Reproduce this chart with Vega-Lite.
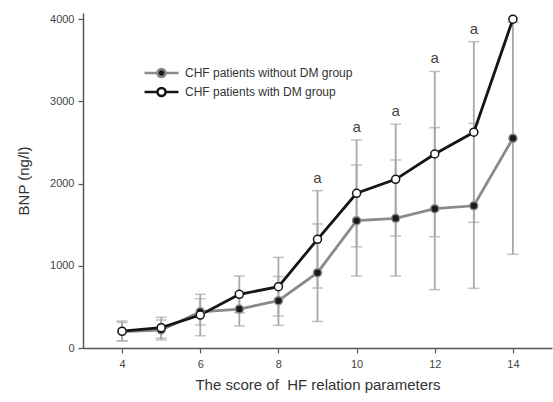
{
  "$schema": "https://vega.github.io/schema/vega-lite/v6.json",
  "width": 469,
  "height": 335,
  "autosize": {"type": "none"},
  "padding": {"left": 83, "top": 13, "right": 1, "bottom": 54},
  "background": "white",
  "config": {
    "view": {"stroke": null},
    "font": "Liberation Sans",
    "axis": {
      "grid": false,
      "domainColor": "#555",
      "domainWidth": 1.5,
      "tickColor": "#555",
      "tickWidth": 1.2,
      "tickSize": 5,
      "labelFont": "Liberation Sans",
      "labelFontSize": 11,
      "labelColor": "#444",
      "titleFont": "Liberation Sans",
      "titleFontSize": 15,
      "titleFontWeight": "normal",
      "titleColor": "#333"
    },
    "legend": {
      "orient": "none",
      "legendX": 60,
      "legendY": 52,
      "symbolType": "M-1,0H-0.24M0.24,0H1M-0.24,0A0.24,0.24,0,1,0,0.24,0A0.24,0.24,0,1,0,-0.24,0Z",
      "symbolSize": 1156,
      "symbolStrokeWidth": 2.5,
      "clipHeight": 16,
      "rowPadding": 3,
      "labelLimit": 0,
      "labelFont": "Liberation Sans",
      "labelFontSize": 12,
      "labelColor": "#333",
      "labelOffset": 5
    }
  },
  "data": {
    "values": [
      {"x": 4, "group": "CHF patients without DM group", "mean": 198, "lo": 88, "hi": 310, "label": null},
      {"x": 5, "group": "CHF patients without DM group", "mean": 219, "lo": 98, "hi": 340, "label": null},
      {"x": 6, "group": "CHF patients without DM group", "mean": 440, "lo": 280, "hi": 600, "label": null},
      {"x": 7, "group": "CHF patients without DM group", "mean": 474, "lo": 268, "hi": 680, "label": null},
      {"x": 8, "group": "CHF patients without DM group", "mean": 575, "lo": 275, "hi": 870, "label": null},
      {"x": 9, "group": "CHF patients without DM group", "mean": 916, "lo": 323, "hi": 1509, "label": null},
      {"x": 10, "group": "CHF patients without DM group", "mean": 1549, "lo": 876, "hi": 2226, "label": null},
      {"x": 11, "group": "CHF patients without DM group", "mean": 1578, "lo": 876, "hi": 2287, "label": null},
      {"x": 12, "group": "CHF patients without DM group", "mean": 1695, "lo": 710, "hi": 2680, "label": null},
      {"x": 13, "group": "CHF patients without DM group", "mean": 1730, "lo": 726, "hi": 2734, "label": null},
      {"x": 14, "group": "CHF patients without DM group", "mean": 2551, "lo": 1140, "hi": 3962, "label": null},
      {"x": 4, "group": "CHF patients with DM group", "mean": 205, "lo": 86, "hi": 328, "label": null},
      {"x": 5, "group": "CHF patients with DM group", "mean": 247, "lo": 121, "hi": 373, "label": null},
      {"x": 6, "group": "CHF patients with DM group", "mean": 401, "lo": 149, "hi": 653, "label": null},
      {"x": 7, "group": "CHF patients with DM group", "mean": 653, "lo": 430, "hi": 876, "label": null},
      {"x": 8, "group": "CHF patients with DM group", "mean": 746, "lo": 389, "hi": 1103, "label": null},
      {"x": 9, "group": "CHF patients with DM group", "mean": 1322, "lo": 730, "hi": 1914, "label": "a"},
      {"x": 10, "group": "CHF patients with DM group", "mean": 1882, "lo": 1230, "hi": 2530, "label": "a"},
      {"x": 11, "group": "CHF patients with DM group", "mean": 2052, "lo": 1363, "hi": 2721, "label": "a"},
      {"x": 12, "group": "CHF patients with DM group", "mean": 2360, "lo": 1354, "hi": 3364, "label": "a"},
      {"x": 13, "group": "CHF patients with DM group", "mean": 2625, "lo": 1529, "hi": 3726, "label": "a"},
      {"x": 14, "group": "CHF patients with DM group", "mean": 4000, "lo": null, "hi": null, "label": null}
    ]
  },
  "layer": [
    {
      "transform": [{"filter": "datum.lo != null"}],
      "mark": {"type": "errorbar", "ticks": {"size": 11, "color": "#a8a8a8", "thickness": 1.5}, "rule": {"color": "#a8a8a8", "strokeWidth": 1.8}},
      "encoding": {
        "x": {"field": "x", "type": "quantitative", "scale": {"domain": [3, 15]},
          "axis": {"values": [4, 6, 8, 10, 12, 14], "format": "d", "title": "The score of\u00a0 HF relation parameters", "titlePadding": 8, "labelPadding": 5}},
        "y": {"field": "lo", "type": "quantitative", "scale": {"domain": [0, 4075], "nice": false},
          "axis": {"values": [0, 1000, 2000, 3000, 4000], "format": "d", "title": "BNP (ng/l)", "titlePadding": 18, "labelPadding": 4}},
        "y2": {"field": "hi"}
      }
    },
    {
      "mark": {"type": "line", "strokeWidth": 2.8},
      "encoding": {
        "x": {"field": "x", "type": "quantitative"},
        "y": {"field": "mean", "type": "quantitative"},
        "stroke": {"field": "group", "type": "nominal", "title": null,
          "scale": {"domain": ["CHF patients without DM group", "CHF patients with DM group"], "range": ["#8a8a8a", "#151515"]}}
      }
    },
    {
      "mark": {"type": "point", "shape": "circle", "size": 64, "strokeWidth": 1.5, "opacity": 1},
      "encoding": {
        "x": {"field": "x", "type": "quantitative"},
        "y": {"field": "mean", "type": "quantitative"},
        "stroke": {"field": "group", "type": "nominal", "title": null,
          "scale": {"domain": ["CHF patients without DM group", "CHF patients with DM group"], "range": ["#8a8a8a", "#151515"]}},
        "fill": {"field": "group", "type": "nominal", "title": null,
          "scale": {"domain": ["CHF patients without DM group", "CHF patients with DM group"], "range": ["#1a1a1a", "#ffffff"]}}
      }
    },
    {
      "transform": [{"filter": "datum.label != null"}],
      "mark": {"type": "text", "dy": -13, "fontSize": 15, "color": "#444", "font": "Liberation Sans"},
      "encoding": {
        "x": {"field": "x", "type": "quantitative"},
        "y": {"field": "hi", "type": "quantitative"},
        "text": {"field": "label"}
      }
    }
  ]
}
